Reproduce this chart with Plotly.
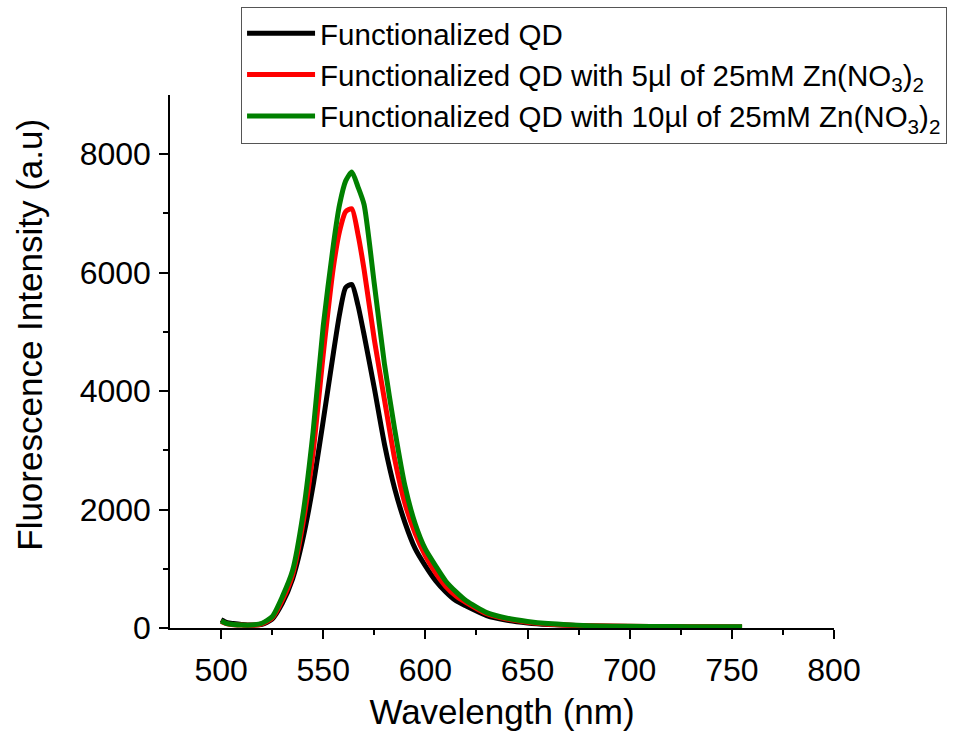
import plotly.graph_objects as go

wavelength = [500, 503, 506, 510, 515, 520, 525, 530, 535, 540, 545, 550, 555, 558, 561, 564,
              567, 570, 575, 580, 585, 590, 595, 600, 605, 610, 615, 620, 630, 640, 650, 660,
              680, 700, 720, 740, 755]

qd = [140, 90, 75, 60, 50, 60, 150, 420, 830, 1500, 2400, 3500, 4650, 5300, 5750, 5800,
      5450, 4950, 4050, 3100, 2350, 1780, 1340, 1050, 800, 610, 460, 370, 210, 130, 85, 60,
      35, 25, 20, 18, 15]

qd_5ul = [110, 70, 55, 50, 45, 70, 170, 470, 900, 1750, 2950, 4620, 6100, 6700, 7030, 7080,
          6650, 6050, 4870, 3850, 2850, 2100, 1600, 1220, 930, 700, 540, 430, 240, 150, 95, 65,
          38, 28, 22, 20, 18]

qd_10ul = [120, 75, 60, 50, 50, 80, 190, 530, 970, 1900, 3300, 5100, 6480, 7150, 7550, 7700,
           7450, 7150, 5810, 4450, 3350, 2400, 1760, 1330, 1050, 790, 610, 460, 260, 165, 110, 75,
           40, 30, 25, 20, 20]

x_ticks = [500, 550, 600, 650, 700, 750, 800]
x_minor = [525, 575, 625, 675, 725, 775]
y_ticks = [0, 2000, 4000, 6000, 8000]
y_minor = [1000, 3000, 5000, 7000]

names = ["Functionalized QD",
         "Functionalized QD with 5µl of 25mM Zn(NO<sub>3</sub>)<sub>2</sub>",
         "Functionalized QD with 10µl of 25mM Zn(NO<sub>3</sub>)<sub>2</sub>"]
colors = ["#000000", "#ff0000", "#008000"]
series = [qd, qd_5ul, qd_10ul]

FONT = "Arial, 'Liberation Sans', sans-serif"

fig = go.Figure()
for name, col, ys in zip(names, colors, series):
    fig.add_trace(go.Scatter(x=wavelength, y=ys, mode="lines", name=name,
                             line=dict(color=col, width=5, shape="spline", smoothing=0.6)))

fig.update_layout(
    width=958, height=736,
    margin=dict(l=170, r=124, t=95, b=108, autoexpand=False),
    paper_bgcolor="white", plot_bgcolor="white",
    font=dict(family=FONT, color="black"),
    showlegend=True,
    legend=dict(x=0.107, y=1.166, xanchor="left", yanchor="top",
                bgcolor="white", bordercolor="#555555", borderwidth=1,
                itemwidth=68,
                font=dict(size=29.5, family=FONT), tracegroupgap=0),
    xaxis=dict(range=[475, 800], tickvals=x_ticks,
               showline=True, linecolor="black", linewidth=1.5,
               ticks="outside", ticklen=9, tickwidth=1.5, tickcolor="black",
               ticklabelstandoff=4,
               minor=dict(ticks="outside", ticklen=5, tickwidth=1.5, tickcolor="black",
                          tickvals=x_minor),
               showgrid=False, zeroline=False, tickfont=dict(size=32),
               title=dict(text="Wavelength (nm)", font=dict(size=35), standoff=12)),
    yaxis=dict(range=[0, 9000], tickvals=y_ticks,
               showline=True, linecolor="black", linewidth=1.5,
               ticks="outside", ticklen=9, tickwidth=1.5, tickcolor="black",
               ticklabelstandoff=2,
               minor=dict(ticks="outside", ticklen=5, tickwidth=1.5, tickcolor="black",
                          tickvals=y_minor),
               showgrid=False, zeroline=False, tickfont=dict(size=32)),
    annotations=[dict(text="Fluorescence Intensity (a.u)", textangle=-90,
                      xref="paper", yref="paper", x=-0.211, y=0.55,
                      xanchor="center", yanchor="middle", showarrow=False,
                      font=dict(size=35, family=FONT))],
)

fig.write_html("out.html")
